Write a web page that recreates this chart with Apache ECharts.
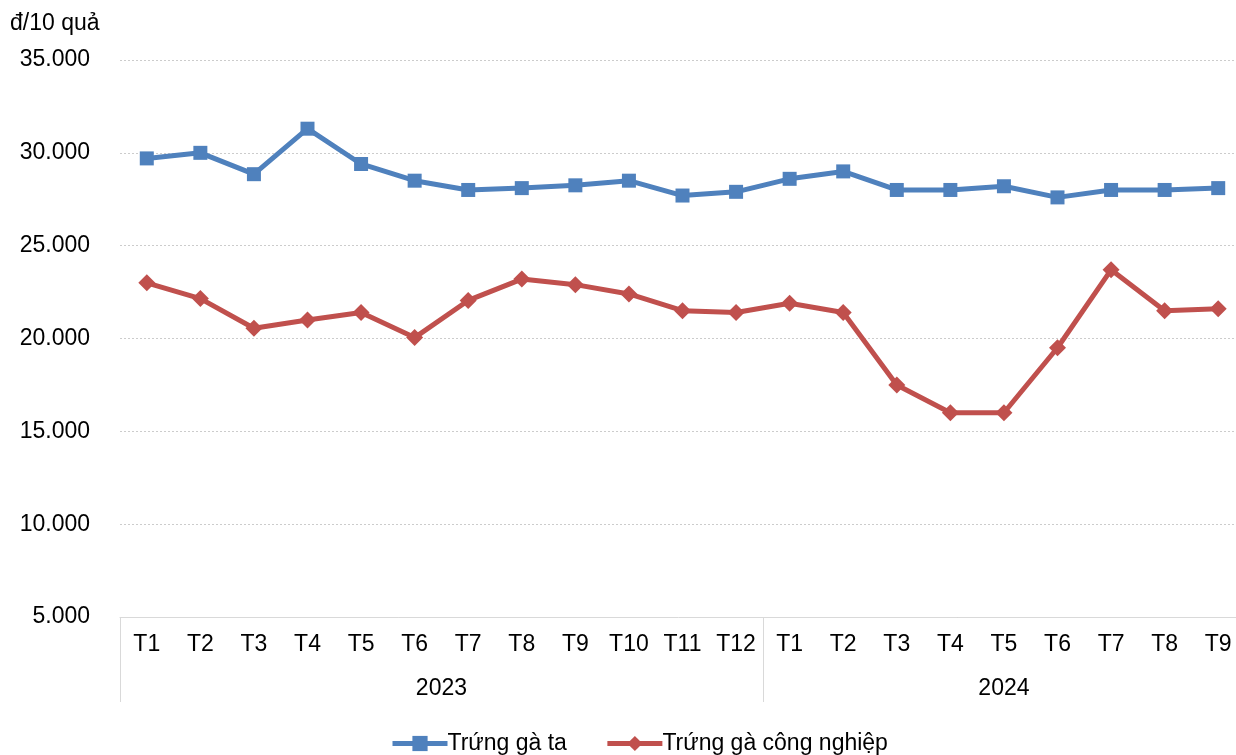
<!DOCTYPE html>
<html><head><meta charset="utf-8">
<script src="https://cdn.jsdelivr.net/npm/echarts@6/dist/echarts.min.js"></script>
<style>html,body{margin:0;padding:0;background:#fff}#c{width:1236px;height:755px}</style>
</head><body><div id="c"></div>
<script>
const months = ['T1','T2','T3','T4','T5','T6','T7','T8','T9','T10','T11','T12','T1','T2','T3','T4','T5','T6','T7','T8','T9'];
const years = ['2023','2024'];
const yearBounds = [0,12,21];
const yearCenters = [6,16.5];
const trungGaTa = [29700,30000,28850,31300,29400,28500,28000,28100,28250,28500,27700,27900,28600,29000,28000,28000,28200,27600,28000,28000,28100];
const trungGaCN = [23000,22150,20550,21000,21400,20050,22050,23200,22900,22400,21500,21400,21900,21400,17500,16000,16000,19500,23700,21500,21600];
const yTicks = {min:5000,max:35000,interval:5000};

const font = 'Liberation Sans, Arial, sans-serif';
const fs = 23;
const chart = echarts.init(document.getElementById('c'));
chart.setOption({
  animation:false,
  textStyle:{fontFamily:font},
  title:{text:'đ/10 quả',left:5,top:7,textStyle:{fontFamily:font,fontSize:fs,fontWeight:'normal',color:'#000'}},
  grid:{left:120,top:60,width:1125,height:557,containLabel:false,outerBoundsMode:'none'},
  legend:{top:727,left:385,itemWidth:55,itemHeight:19,itemGap:38,
    lineStyle:{width:5},
    textStyle:{fontFamily:font,fontSize:fs,color:'#000',padding:[0,0,0,-5]},
    data:['Trứng gà ta','Trứng gà công nghiệp']},
  xAxis:[
    {type:'category',data:months,boundaryGap:true,
     axisLine:{show:true,lineStyle:{color:'#d9d9d9',width:1}},
     axisTick:{show:false},
     axisLabel:{color:'#000',fontSize:fs,margin:16,interval:0,fontFamily:font}},
    {type:'value',min:0,max:21,position:'bottom',
     axisLine:{show:false},splitLine:{show:false},
     axisTick:{show:true,customValues:yearBounds,length:85,lineStyle:{color:'#d9d9d9',width:1}},
     axisLabel:{customValues:yearCenters,margin:60,color:'#000',fontSize:fs,fontFamily:font,
       formatter:function(v){return v===yearCenters[0]?years[0]:years[1];}}}
  ],
  yAxis:{type:'value',min:yTicks.min,max:yTicks.max,interval:yTicks.interval,
    axisLine:{show:false},axisTick:{show:false},
    splitLine:{show:true,lineStyle:{color:'#cccccc',type:[2,2],width:1}},
    axisLabel:{color:'#000',fontSize:fs,margin:30,fontFamily:font,
      formatter:function(v){return v.toString().replace(/\B(?=(\d{3})+(?!\d))/g,'.');}}},
  series:[
    {name:'Trứng gà ta',type:'line',data:trungGaTa,xAxisIndex:0,
     symbol:'rect',symbolSize:14,lineStyle:{width:5,color:'#4f81bd'},itemStyle:{color:'#4f81bd'}},
    {name:'Trứng gà công nghiệp',type:'line',data:trungGaCN,xAxisIndex:0,
     symbol:'diamond',symbolSize:17,lineStyle:{width:5,color:'#c0504d'},itemStyle:{color:'#c0504d'}}
  ]
});
</script></body></html>
